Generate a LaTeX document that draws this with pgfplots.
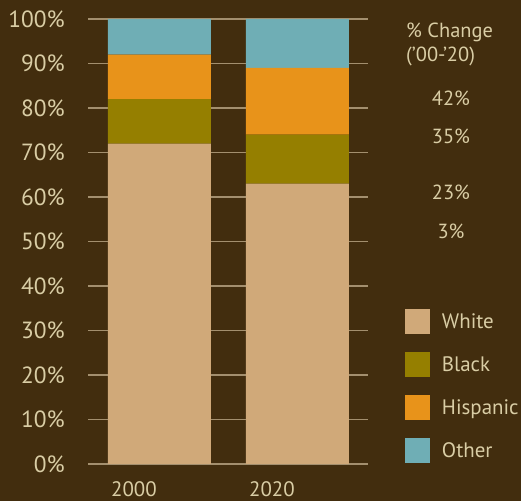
\documentclass[border=0pt]{standalone}
\usepackage{pgfplots}
\pgfplotsset{compat=1.18}
\usepackage{fontspec}
\setmainfont{PT Sans}
\definecolor{bg}{HTML}{422D0E}
\definecolor{txt}{HTML}{D9CDA5}
\definecolor{gridc}{HTML}{A38F6E}
\definecolor{cwhite}{HTML}{D0A979}
\definecolor{cblack}{HTML}{957F00}
\definecolor{chisp}{HTML}{E8931A}
\definecolor{cother}{HTML}{6FAEB5}
\begin{document}
\begin{tikzpicture}
\fill[bg] (0,0) rectangle (521bp,501bp);
\begin{axis}[
  at={(88bp,37bp)}, anchor=south west,
  scale only axis, width=280bp, height=445bp,
  xmin=-0.518, xmax=1.511, ymin=0, ymax=100,
  ybar stacked, bar width=103bp,
  axis line style={draw=none}, major tick length=0pt,
  ytick={0,10,...,100},
  yticklabel={\pgfmathprintnumber{\tick}\%},
  /pgf/number format/assume math mode=true,
  ymajorgrids, grid style={color=gridc, line width=1.2bp},
  xtick={0,1}, xticklabels={2000,2020},
  yticklabel style={anchor=east, inner sep=0pt, xshift=-23bp, text=txt, font=\fontsize{23.5}{23.5}\selectfont},
  xticklabel style={anchor=base west, inner sep=0pt, xshift=-48.5bp, yshift=-32bp, text=txt, font=\fontsize{21}{21}\selectfont},
  legend style={at={(1.1321,0.3483)}, anchor=north west, draw=none, fill=none,
    inner sep=0pt, outer sep=0pt, row sep=18bp,
    nodes={inner sep=0pt, text=txt, font=\fontsize{21}{21}\selectfont, anchor=west},
    /tikz/every odd column/.append style={column sep=12bp}},
  legend cell align=left,
  legend image code/.code={\fill[#1,draw=none] (0bp,-12.5bp) rectangle (25bp,12.5bp);},
]
\addplot[fill=cwhite, draw=none] coordinates {(0,72) (1,63)};
\addplot[fill=cblack, draw=none] coordinates {(0,10) (1,11)};
\addplot[fill=chisp, draw=none] coordinates {(0,10) (1,15)};
\addplot[fill=cother, draw=none] coordinates {(0,8) (1,11)};
\legend{White,Black,Hispanic,Other}
\end{axis}
\begin{scope}[every node/.style={text=txt, inner sep=0pt, font=\fontsize{20.5}{20.5}\selectfont}]
\node[anchor=base west] at (406bp,463bp) {\% Change};
\node[anchor=base west] at (406bp,439bp) {(’00-’20)};
\node[anchor=base] at (451bp,395bp) {42\%};
\node[anchor=base] at (451bp,357bp) {35\%};
\node[anchor=base] at (451bp,301.7bp) {23\%};
\node[anchor=base] at (451bp,262.7bp) {3\%};
\end{scope}
\pgfresetboundingbox
\useasboundingbox (0,0) rectangle (521bp,501bp);
\end{tikzpicture}
\end{document}
